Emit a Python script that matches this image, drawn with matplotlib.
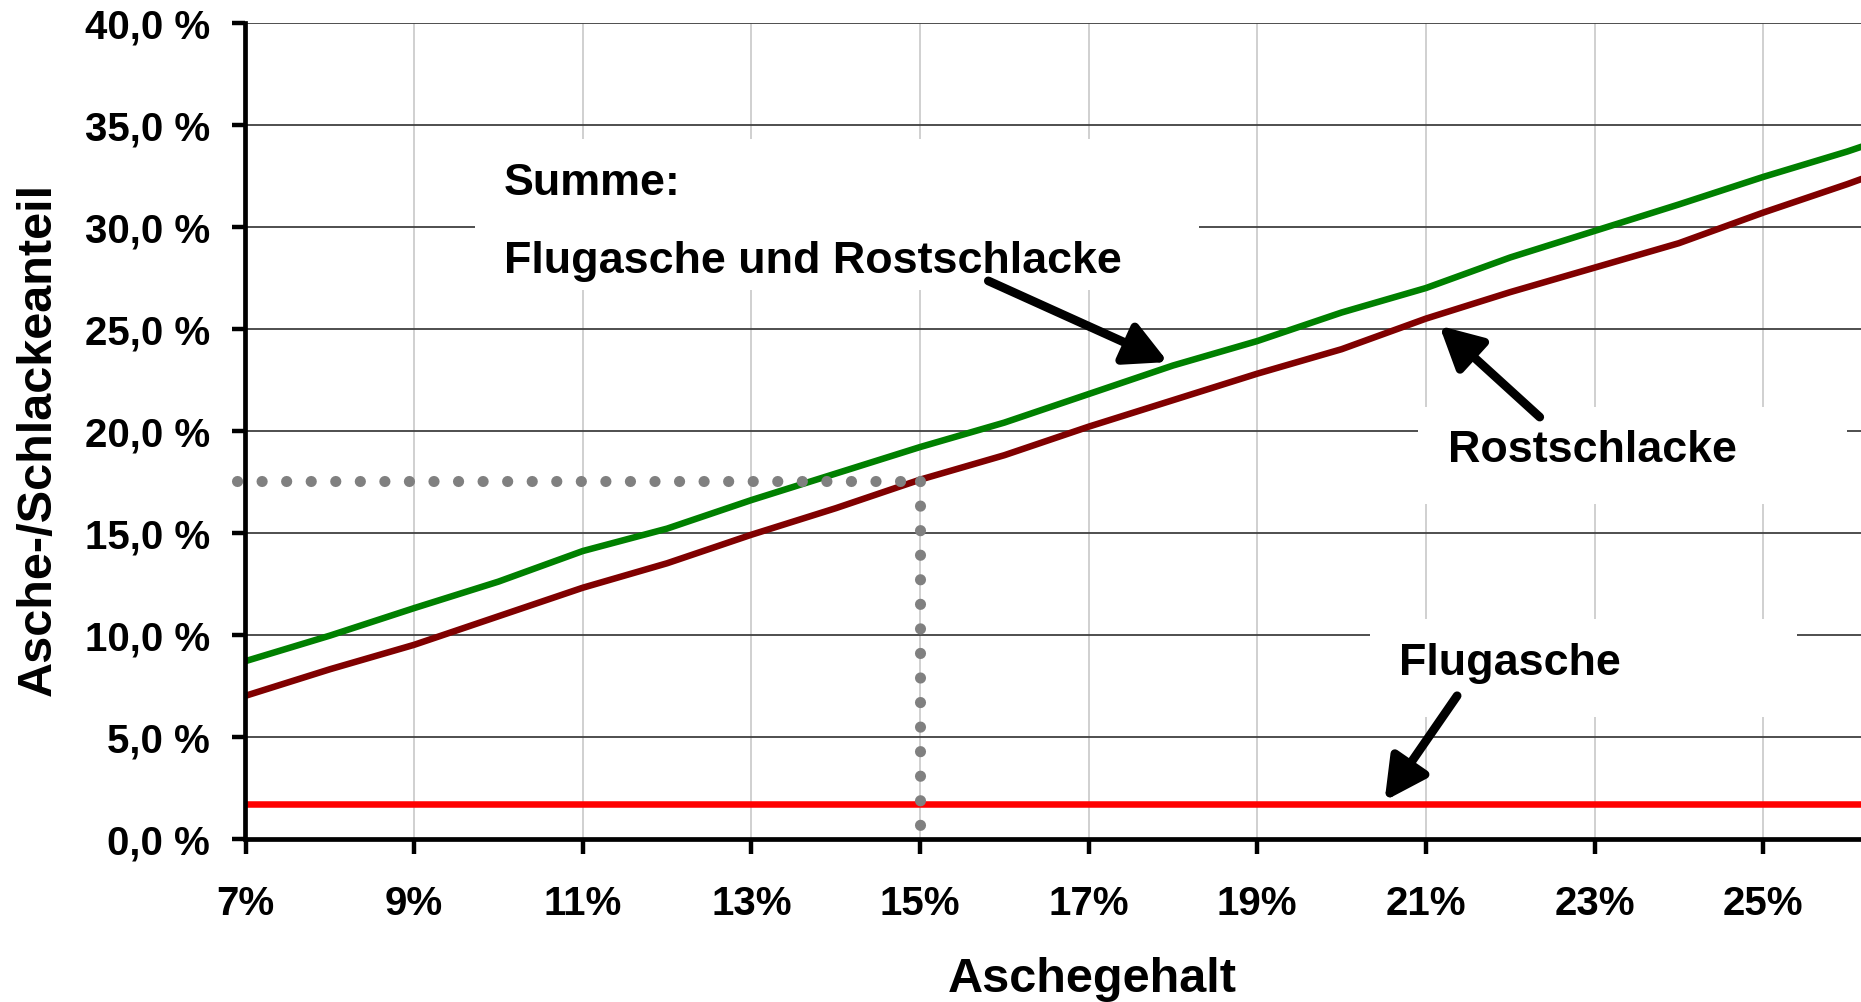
import matplotlib
matplotlib.use("Agg")
import matplotlib.pyplot as plt
from matplotlib.ticker import FuncFormatter, MultipleLocator
from matplotlib.patches import Rectangle

plt.rcParams['font.family'] = ['Liberation Sans', 'DejaVu Sans']
plt.rcParams['font.weight'] = 'bold'

# Aschegehalt in %
asche = [7, 8, 9, 10, 11, 12, 13, 14, 15, 16, 17, 18, 19, 20, 21, 22, 23, 24, 25, 26, 27]
# Rostschlacke in %
rost = [7.0, 8.3, 9.5, 10.9, 12.3, 13.5, 14.9, 16.2, 17.6, 18.8, 20.2, 21.5, 22.8,
        24.0, 25.5, 26.8, 28.0, 29.2, 30.7, 32.1, 33.6]
# Summe Flugasche + Rostschlacke in %
summe = [8.7, 9.95, 11.3, 12.6, 14.1, 15.2, 16.6, 17.9, 19.2, 20.4, 21.8, 23.2, 24.4,
         25.8, 27.0, 28.5, 29.8, 31.1, 32.45, 33.7, 35.1]
# Flugasche in %
flug = [1.7] * len(asche)

xticks = [7, 9, 11, 13, 15, 17, 19, 21, 23, 25]
marker_x, marker_y = 15, 17.55

W, H = 1861, 1003
fig = plt.figure(figsize=(W / 100, H / 100), dpi=100)
ax = fig.add_axes([245.5 / W, 1 - 839.5 / H, (W - 245.5) / W, (839.5 - 24) / H])
ax.set_xlim(7, 26.16)
ax.set_ylim(0, 40)

# grid
ax.set_axisbelow(True)
ax.yaxis.set_major_locator(MultipleLocator(5))
ax.set_xticks(xticks)
ax.grid(axis='y', color='#404040', linewidth=1.3, zorder=0)
ax.grid(axis='x', color='#c8c8c8', linewidth=1.2, zorder=0)

# white backgrounds behind the annotation texts
for (x0, x1, y0, y1) in [(9.72, 18.31, 26.9, 34.3), (20.91, 25.99, 16.4, 21.16),
                         (20.34, 25.4, 5.96, 10.77)]:
    ax.add_patch(Rectangle((x0, y0), x1 - x0, y1 - y0, facecolor='white',
                           edgecolor='none', zorder=1))

lw = 4.7
ax.plot(asche, flug, color='#ff0000', linewidth=lw, zorder=3)
ax.plot(asche, rost, color='#800000', linewidth=lw, zorder=3)
ax.plot(asche, summe, color='#008000', linewidth=lw, zorder=3)

# dotted guide lines
dot = dict(color='#808080', linewidth=8.0, linestyle=(0, (0.01, 2.2)),
           dash_capstyle='round', zorder=4, clip_on=False)
ax.plot([6.9, marker_x], [marker_y, marker_y], **dot)
ax.plot([marker_x, marker_x], [marker_y, 0.5], **dot)

# spines and ticks
for s in ['top', 'right']:
    ax.spines[s].set_visible(False)
for s in ['left', 'bottom']:
    ax.spines[s].set_linewidth(3.4)
    ax.spines[s].set_zorder(5)
ax.tick_params(axis='both', direction='out', width=3.2, color='black', labelsize=29)
ax.tick_params(axis='y', length=9.5, pad=16)
ax.tick_params(axis='x', length=11, pad=22)
ax.yaxis.set_major_formatter(FuncFormatter(lambda v, p: f"{v:.1f} %".replace('.', ',')))
ax.xaxis.set_major_formatter(FuncFormatter(lambda v, p: f"{v:.0f}%"))
for lab in ax.get_xticklabels() + ax.get_yticklabels():
    lab.set_fontweight('bold')

ax.set_xlabel("Aschegehalt", fontsize=35, fontweight='bold', va='center')
ax.xaxis.set_label_coords(0.524, -0.172)
ax.set_ylabel("Asche-/Schlackeanteil", fontsize=35, fontweight='bold', va='center', ha='center')
ax.yaxis.set_label_coords(-0.1284, 0.491)

# annotations
txt = dict(fontsize=32.3, fontweight='bold', color='black', zorder=6)
ax.text(10.06, 32.17, "Summe:", va='center', ha='left', **txt)
ax.text(10.06, 28.37, "Flugasche und Rostschlacke", va='center', ha='left', **txt)
ax.text(22.97, 19.1, "Rostschlacke", va='center', ha='center', **txt)
ax.text(22.0, 8.65, "Flugasche", va='center', ha='center', **txt)

arrow = dict(arrowstyle='-|>,head_length=1.15,head_width=0.6', color='black',
             linewidth=6.3, shrinkA=0, shrinkB=0, mutation_scale=22)
ax.annotate("", xy=(17.94, 23.37), xytext=(15.81, 27.35), arrowprops=arrow, zorder=6)
ax.annotate("", xy=(21.16, 25.15), xytext=(22.35, 20.67), arrowprops=arrow, zorder=6)
ax.annotate("", xy=(20.51, 1.85), xytext=(21.37, 7.0), arrowprops=arrow, zorder=6)

fig.savefig("out.png", dpi=100, facecolor='white')
